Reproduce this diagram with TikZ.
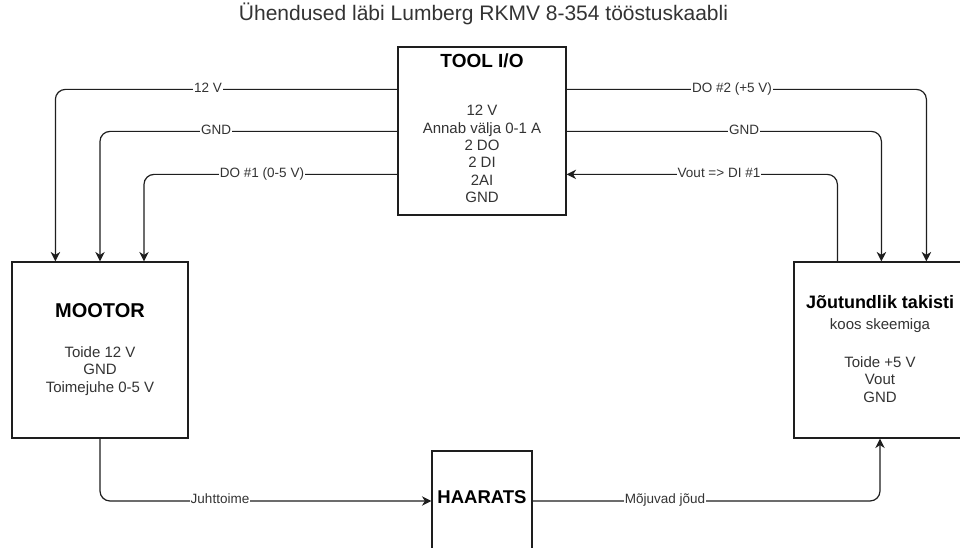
\documentclass[tikz,border=0pt]{standalone}
\usepackage{fontspec}
\setmainfont{Liberation Sans}
\usetikzlibrary{arrows.meta,calc}
\definecolor{ln}{RGB}{30,30,30}
\definecolor{tx}{RGB}{51,51,51}
\begin{document}
\begin{tikzpicture}[x=1pt,y=-1pt,
 box/.style={draw=ln,line width=1.2pt,fill=none,inner sep=0pt},
 conn/.style={draw=ln,line width=1.2pt,rounded corners=10pt,-{Stealth[length=9.5pt,width=9.5pt,inset=3pt]}},
 elabel/.style={fill=white,inner sep=1pt,text=tx,font=\fontsize{13.5}{15}\selectfont,anchor=mid},
 ttl/.style={font=\bfseries\fontsize{19}{22}\selectfont,anchor=mid,inner sep=0pt},
 body/.style={font=\fontsize{15}{17.4}\selectfont,text=tx,align=center,inner sep=0pt}
]
\clip (0,0) rectangle (960,548);
\fill[white] (0,0) rectangle (960,548);

% boxes
\node[box,minimum width=168pt,minimum height=168pt] (tool) at (482,131) {};
\node[box,minimum width=176pt,minimum height=176pt] (mot) at (100,350) {};
\node[box,minimum width=172pt,minimum height=176pt] (jt) at (880,350) {};
\node[box,minimum width=100pt,minimum height=100pt] (haar) at (482,501) {};

% texts
\node[font=\fontsize{21}{24}\selectfont,text=tx,anchor=mid,inner sep=0pt] (title) at (483.5,18) {Ühendused läbi Lumberg RKMV 8-354 tööstuskaabli};
\node[ttl] (toolT) at (482,65) {TOOL I/O};
\node[body] (toolB) at (482,154) {12 V\\Annab välja 0-1 A\\2 DO\\2 DI\\2AI\\GND};
\node[ttl,font=\bfseries\fontsize{20}{22}\selectfont] (motT) at (100,315) {MOOTOR};
\node[body] (motB) at (100,371) {Toide 12 V\\GND\\Toimejuhe 0-5 V};
\node[ttl,font=\bfseries\fontsize{18}{22}\selectfont] (jtT) at (880,306) {Jõutundlik takisti};
\node[body] (jtS) at (880,326) {koos skeemiga};
\node[body] (jtB) at (880,379.5) {Toide +5 V\\Vout\\GND};
\node[ttl,font=\bfseries\fontsize{18.5}{22}\selectfont] (haarT) at (482,501) {HAARATS};

% connectors
\draw[conn] ($(tool.north west)+(0,43)$) -| ($(mot.north west)+(44,0)$);
\draw[conn] ($(tool.north west)+(0,85)$) -| (mot.north);
\draw[conn] ($(tool.north west)+(0,128)$) -| ($(mot.north)+(44,0)$);
\draw[conn] ($(tool.north east)+(0,43)$) -| ($(jt.north west)+(133,0)$);
\draw[conn] ($(tool.north east)+(0,85)$) -| ($(jt.north west)+(88,0)$);
\draw[conn] ($(jt.north west)+(44,0)$) |- ($(tool.north east)+(0,128)$);
\draw[conn] (mot.south) |- (haar.west);
\draw[conn] (haar.east) -| (jt.south);

% connector labels
\node[elabel] (l1) at (208,90) {12 V};
\node[elabel] (l2) at (216,132) {GND};
\node[elabel] (l3) at (262,175) {DO \#1 (0-5 V)};
\node[elabel] (l4) at (732,90) {DO \#2 (+5 V)};
\node[elabel] (l5) at (744,132) {GND};
\node[elabel] (l6) at (719,175) {Vout => DI \#1};
\node[elabel] (l7) at (220,501) {Juhttoime};
\node[elabel] (l8) at (665,501) {Mõjuvad jõud};
\end{tikzpicture}
\end{document}
